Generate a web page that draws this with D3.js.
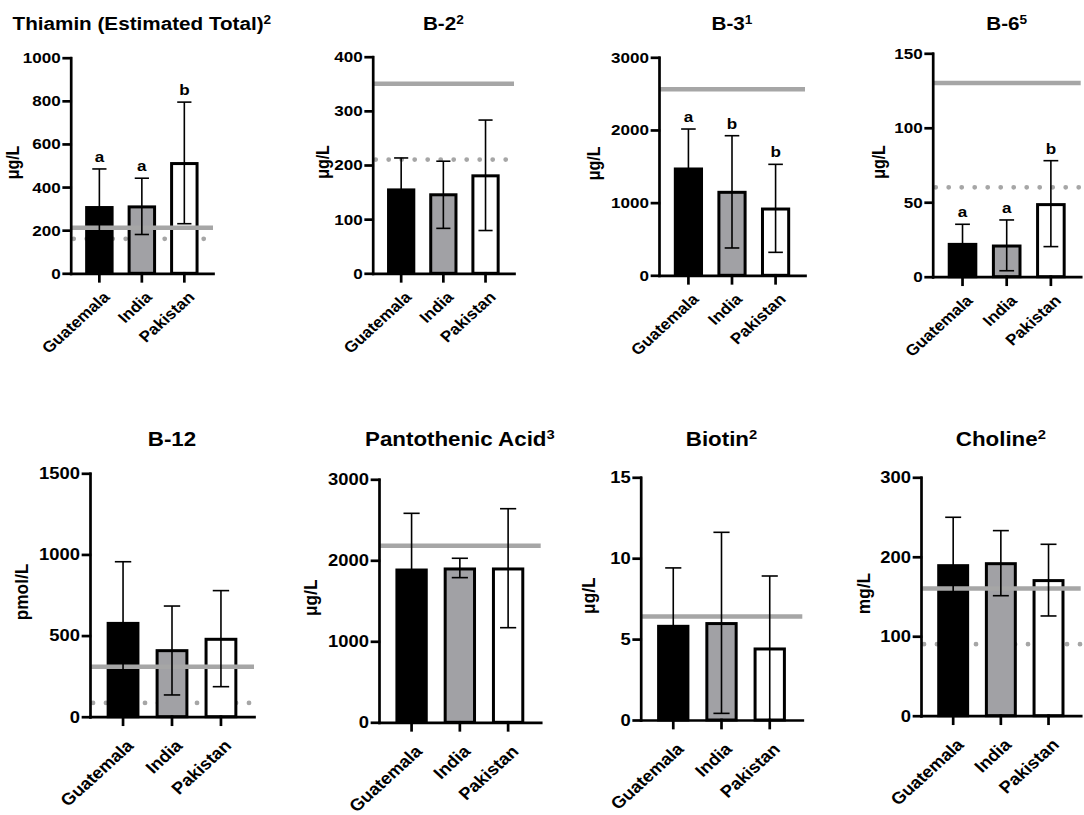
<!DOCTYPE html>
<html>
<head>
<meta charset="utf-8">
<script src="https://cdn.jsdelivr.net/npm/d3@7/dist/d3.min.js"></script>
<style>
  body { margin: 0; background: #fff; }
  svg text { font-family: "Liberation Sans", Arial, sans-serif; font-weight: bold; fill: #000; }
</style>
</head>
<body>
<svg id="chart" width="1084" height="815"></svg>
<script>
// data
var countries = ["Guatemala", "India", "Pakistan"];
var panelTitles = ["Thiamin (Estimated Total)", "B-2", "B-3", "B-6", "B-12", "Pantothenic Acid", "Biotin", "Choline"];
var titleNotes = ["2", "2", "1", "5", "", "3", "2", "2"];
var unitLabels = ["μg/L", "μg/L", "μg/L", "μg/L", "pmol/L", "μg/L", "μg/L", "mg/L"];

var meanValues = [
    [305, 308, 509],
    [154, 145, 180],
    [1463, 1142, 912],
    [21.7, 20.6, 48.4],
    [575, 407, 477],
    [1880, 1893, 1893],
    [5.79, 5.96, 4.39],
    [188.8, 191.3, 170]
];
var errorUpper = [
    [484, 441, 794],
    [213, 207, 283],
    [2013, 1921, 1527],
    [35.2, 38.1, 77.9],
    [955, 682, 777],
    [2580, 2025, 2637],
    [9.4, 11.6, 8.9],
    [249.7, 232.9, 215.7]
];
var errorLower = [
    [126, 180, 230],
    [95, 83, 79],
    [913, 376, 316],
    [8.2, 4.0, 20.2],
    [195, 134, 185],
    [1180, 1786, 1168],
    [2.2, 0.41, 0],
    [128, 151, 125.5]
];
var yTicks = [
    [0, 200, 400, 600, 800, 1000],
    [0, 100, 200, 300, 400],
    [0, 1000, 2000, 3000],
    [0, 50, 100, 150],
    [0, 500, 1000, 1500],
    [0, 1000, 2000, 3000],
    [0, 5, 10, 15],
    [0, 100, 200, 300]
];
var solidRefs = [211, 350, 2560, 130, 308, 2180, 6.4, 160];
var dottedRefs = [160, 210, null, 60, 85, null, null, 90];
var sigLetters = [
    ["a", "a", "b"], null, ["a", "b", "b"], ["a", "a", "b"],
    null, null, null, null
];

// layout of each panel: plot box and unit label x
var panelBoxes = [
    {left: 70.7, right: 213, top: 57.7, bottom: 273.3, labelX: 13.3},
    {left: 372.7, right: 514, top: 56.7, bottom: 273.3, labelX: 322.5},
    {left: 659, right: 805, top: 57.3, bottom: 275.3, labelX: 594},
    {left: 932.7, right: 1080.7, top: 53.3, bottom: 276.7, labelX: 879},
    {left: 90, right: 254, top: 473.3, bottom: 716.7, labelX: 21.7},
    {left: 379, right: 540.7, top: 479.3, bottom: 722.3, labelX: 310},
    {left: 640.7, right: 802.3, top: 477.3, bottom: 720, labelX: 588.5},
    {left: 921, right: 1080.7, top: 477.3, bottom: 715.7, labelX: 863.5}
];
var titleBase = [30, 446];

var barFills = ["#000000", "#a1a1a5", "#ffffff"];
var refGray = "#a6a6a6";
var SX = 1.1; // the figure is a little stretched sideways

var svg = d3.select('#chart');

function drawPanel(i) {
    var box = panelBoxes[i];
    var row = i < 4 ? 0 : 1;
    var fs = row ? 1.08 : 1;
    var g = svg.append('g').attr('class', 'panel');

    var ticks = yTicks[i];
    var y = d3.scaleLinear()
        .domain([0, ticks[ticks.length - 1]])
        .range([box.bottom, box.top]);
    var x = d3.scaleBand()
        .domain(countries)
        .range([box.left, box.right])
        .paddingInner(0.33)
        .paddingOuter(0.34);
    var bw = x.bandwidth();

    // dotted reference, behind the bars
    if (dottedRefs[i] != null) {
        g.append('line')
            .attr('x1', box.left + 3).attr('x2', box.right)
            .attr('y1', y(dottedRefs[i])).attr('y2', y(dottedRefs[i]))
            .style('stroke', refGray)
            .style('stroke-width', 4.8)
            .style('stroke-linecap', 'round')
            .style('stroke-dasharray', '0 13');
    }

    var rows = countries.map(function(c, k) {
        return {c: c, k: k, v: meanValues[i][k], hi: errorUpper[i][k], lo: errorLower[i][k]};
    });

    g.selectAll('rect')
        .data(rows)
        .enter().append('rect')
            .attr('x', function(d) {return x(d.c) + 1.5;})
            .attr('y', function(d) {return y(d.v);})
            .attr('width', bw - 3)
            .attr('height', function(d) {return box.bottom - y(d.v);})
            .style('fill', function(d) {return barFills[d.k];})
            .style('stroke', '#000')
            .style('stroke-width', 3);

    // solid reference, over the bars
    g.append('line')
        .attr('x1', box.left).attr('x2', box.right)
        .attr('y1', y(solidRefs[i])).attr('y2', y(solidRefs[i]))
        .style('stroke', refGray)
        .style('stroke-width', 4.5);

    // error bars
    var capW = bw * 0.5;
    var err = g.selectAll('.err')
        .data(rows)
        .enter().append('g')
            .attr('class', 'err')
            .attr('transform', function(d) {return 'translate(' + (x(d.c) + bw / 2) + ',0)';})
            .style('stroke', '#000')
            .style('stroke-width', 1.6);
    err.append('line')
        .attr('y1', function(d) {return y(d.lo);})
        .attr('y2', function(d) {return y(d.hi);});
    err.append('line')
        .attr('x1', -capW / 2).attr('x2', capW / 2)
        .attr('y1', function(d) {return y(d.hi);})
        .attr('y2', function(d) {return y(d.hi);});
    err.filter(function(d) {return d.lo > 0;}).append('line')
        .attr('x1', -capW / 2).attr('x2', capW / 2)
        .attr('y1', function(d) {return y(d.lo);})
        .attr('y2', function(d) {return y(d.lo);});

    if (sigLetters[i]) {
        g.selectAll('.sig')
            .data(rows)
            .enter().append('text')
                .attr('class', 'sig')
                .attr('text-anchor', 'middle')
                .attr('transform', function(d) {
                    return 'translate(' + (x(d.c) + bw / 2) + ',' + (y(d.hi) - 7) + ') scale(' + SX + ',1)';
                })
                .style('font-size', (15.5 * fs) + 'px')
                .text(function(d) {return sigLetters[i][d.k];});
    }

    // axes
    var yAxis = g.append('g')
        .attr('transform', 'translate(' + box.left + ',0)')
        .call(d3.axisLeft(y).tickValues(ticks).tickFormat(d3.format('d')).tickSize(7).tickSizeOuter(0));
    yAxis.selectAll('text')
        .attr('x', -10 / SX)
        .attr('transform', 'scale(' + SX + ',1)')
        .style('font-size', (15.5 * fs) + 'px');

    var xAxis = g.append('g')
        .attr('transform', 'translate(0,' + box.bottom + ')')
        .call(d3.axisBottom(x).tickSize(8).tickSizeOuter(0));
    xAxis.selectAll('text')
        .attr('x', 0).attr('y', 0)
        .attr('dy', '0.35em')
        .attr('text-anchor', 'end')
        .attr('transform', 'translate(7,' + (row ? 26 : 21) + ') scale(' + SX + ',1) rotate(-45)')
        .style('font-size', (15.5 * fs) + 'px');

    g.selectAll('.domain, .tick line')
        .style('stroke', '#000')
        .style('stroke-width', 2.7)
        .style('stroke-linecap', 'square');
    g.selectAll('.tick text').style('fill', '#000');

    // unit label
    g.append('text')
        .attr('text-anchor', 'middle')
        .attr('dy', '0.35em')
        .attr('transform', 'translate(' + box.labelX + ',' + ((box.top + box.bottom) / 2 - 3) + ') scale(' + SX + ',1) rotate(-90)')
        .style('font-size', (16 * fs) + 'px')
        .text(unitLabels[i]);

    // title with footnote
    var t = g.append('text')
        .attr('text-anchor', 'middle')
        .attr('transform', 'translate(' + ((box.left + box.right) / 2) + ',' + titleBase[row] + ') scale(' + SX + ',1)')
        .style('font-size', (18.8 * fs) + 'px');
    t.append('tspan').text(panelTitles[i]);
    if (titleNotes[i]) {
        t.append('tspan')
            .attr('dy', '-0.5em')
            .style('font-size', '0.66em')
            .text(titleNotes[i]);
    }
}

for (var i = 0; i < panelTitles.length; i++) {
    drawPanel(i);
}
</script>
</body>
</html>
